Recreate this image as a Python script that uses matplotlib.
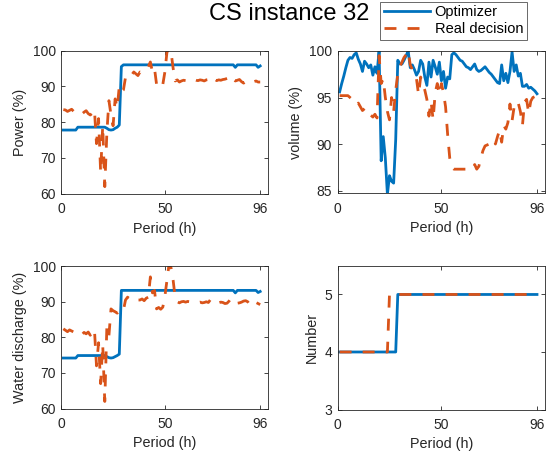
import matplotlib
matplotlib.use('Agg')
import matplotlib.pyplot as plt

plt.rcParams['font.family'] = ['Liberation Sans', 'DejaVu Sans']

tick_font = 10
label_font = 10.4

# ---- data (period 1..96) ----
period = list(range(1, 97))

# power: optimizer (breakpoints) and real decision
power_opt_x = [1, 7, 8, 21, 22, 23, 24, 25, 26, 27, 28, 29, 30, 83, 84, 85, 94, 95, 96]
power_opt_y = [77.8, 77.8, 78.6, 78.6, 78.3, 77.9, 77.8, 77.9, 78.3, 78.6, 79.2, 95.5, 96.0,
               96.0, 95.3, 96.0, 96.0, 95.3, 95.7]
power_real = [83.5, 83.4, 83.0, 83.3, 83.6, 83.0, 82.6, 82.2, 82.5, 82.3,
              82.8, 83.2, 82.4, 82.0, 82.5, 83.5, 74.0, 81.0, 66.0, 79.0,
              62.0, 77.0, 86.0, 82.0, 79.0, 86.5, 84.0, 90.0, 88.5, 89.0,
              92.5, 93.0, 92.5, 93.2, 94.0, 93.5, 93.0, 94.0, 93.8, 94.2,
              94.5, 95.5, 96.8, 94.0, 95.0, 90.5, 89.5, 89.8, 90.5, 94.0,
              99.5, 100.5, 99.5, 95.0, 91.5, 91.8, 91.2, 91.5, 91.7, 91.6,
              91.8, 92.0, 92.2, 91.9, 91.7, 91.6, 91.8, 91.7, 91.5, 91.8,
              91.9, 92.0, 92.7, 92.0, 91.6, 91.8, 91.7, 91.9, 92.0, 92.2,
              92.4, 93.0, 92.0, 91.5, 91.7, 91.9, 91.3, 90.9, 91.3, 91.8,
              91.6, 91.4, 91.3, 91.5, 91.2, 91.2]

# volume
volume_opt = [95.6, 96.5, 97.3, 98.2, 99.0, 99.3, 99.2, 99.6, 99.8, 99.1,
              98.6, 97.8, 98.9, 98.6, 98.2, 98.5, 97.4, 98.3, 97.6, 100.0,
              88.2, 90.8, 88.5, 84.6, 86.6, 86.0, 85.8, 90.5, 99.0, 98.6,
              98.6, 99.0, 99.5, 100.0, 98.2, 98.5, 98.0, 97.4, 97.8, 99.0,
              98.6, 97.2, 96.3, 98.8, 97.2, 99.0, 98.3, 97.5, 98.8, 96.8,
              97.8, 96.0, 97.2, 97.0, 99.6, 99.8, 99.6, 99.3, 99.0, 98.9,
              98.6, 98.3, 98.2, 98.0, 98.3, 98.6, 98.0, 97.8, 97.9, 98.1,
              98.3, 98.0, 97.7, 97.5, 97.2, 96.9, 96.6, 96.5, 98.5, 96.8,
              97.6, 96.6, 97.8, 99.9, 97.8, 98.5, 97.3, 97.6, 96.2, 96.2,
              96.4, 96.0, 96.1, 95.9, 95.7, 95.4]
volume_real = [95.2, 95.2, 95.2, 95.2, 95.2, 95.0, 94.8, 94.6, 94.2, 94.4,
               94.0, 93.6, 93.8, 93.4, 93.5, 93.1, 92.9, 93.2, 92.8, 99.5,
               96.5, 97.0, 95.0, 93.5, 92.6, 95.0, 93.5, 95.8, 97.5, 98.3,
               98.8, 99.3, 99.6, 100.0, 98.5, 98.0, 97.6, 97.0, 95.3, 97.2,
               96.3, 95.8, 94.8, 93.0, 94.6, 92.6, 95.5, 96.5, 95.3, 96.5,
               95.5, 94.0, 91.0, 88.5, 87.5, 87.3, 87.3, 87.3, 87.3, 87.3,
               87.3, 87.3, 87.3, 87.3, 87.3, 87.8, 87.3, 87.6, 88.5, 89.3,
               89.8, 89.9, 90.0, 90.3, 90.5, 90.0, 90.8, 91.5, 90.2, 92.0,
               91.6, 92.3, 94.3, 92.5, 94.0, 93.8, 94.4, 93.5, 92.0, 94.5,
               94.8, 93.3, 94.6, 95.0, 95.1, 95.2]

# water discharge
discharge_opt_x = [1, 7, 8, 21, 22, 23, 24, 25, 26, 27, 28, 29, 83, 84, 85, 94, 95, 96]
discharge_opt_y = [74.2, 74.2, 74.9, 74.9, 74.6, 74.3, 74.2, 74.3, 74.6, 74.9, 75.3, 93.2,
                   93.2, 92.5, 93.2, 93.2, 92.6, 92.9]
discharge_real = [82.4, 82.0, 81.6, 82.1, 81.8, 81.5, 81.2, 81.0, 80.5, 80.8,
                  81.4, 81.0, 81.5, 80.6, 81.5, 82.3, 72.0, 78.5, 67.0, 78.0,
                  62.0, 83.0, 80.5, 88.0, 87.5, 87.2, 86.8, 87.5, 88.0, 87.6,
                  90.5, 91.3, 90.8, 91.0, 90.6, 90.8, 90.5, 90.5, 90.8, 90.3,
                  91.0, 91.3, 97.0, 92.5, 93.2, 88.0, 88.4, 87.9, 88.5, 91.5,
                  96.0, 100.5, 99.5, 96.0, 91.0, 90.0, 89.7, 90.0, 90.1, 89.9,
                  90.1, 90.0, 90.2, 90.1, 90.0, 89.8, 89.9, 89.7, 89.8, 90.0,
                  89.8, 90.6, 89.9, 89.6, 89.8, 89.7, 89.9, 89.8, 89.5, 89.6,
                  90.2, 91.0, 90.2, 89.8, 89.6, 89.7, 89.9, 90.2, 90.3, 90.0,
                  89.2, 88.8, 89.6, 89.8, 89.5, 89.2]

# number of units
number_opt_x = [1, 28, 29, 96]
number_opt_y = [4, 4, 5, 5]
number_real_x = [1, 24, 25, 96]
number_real_y = [4, 4, 5, 5]

blue = '#0072BD'
orange = '#D95319'
axis_color = '#262626'

fig = plt.figure(figsize=(5.57, 4.55), dpi=100)

positions = [[0.110, 0.574, 0.372, 0.315],
             [0.606, 0.575, 0.373, 0.313],
             [0.110, 0.102, 0.372, 0.313],
             [0.606, 0.100, 0.373, 0.316]]
axes = [fig.add_axes(p) for p in positions]


def style(ax, ylabel, ylim, yticks):
    ax.set_xlim(0, 100)
    ax.set_xticks([0, 50, 96])
    ax.set_ylim(*ylim)
    ax.set_yticks(yticks)
    ax.set_xlabel('Period (h)', fontsize=label_font, color=axis_color, labelpad=4)
    ax.set_ylabel(ylabel, fontsize=label_font, color=axis_color, labelpad=4)
    ax.tick_params(direction='in', top=True, right=True, length=3, width=0.6,
                   labelsize=tick_font, colors=axis_color, pad=4)
    ax.tick_params(axis='x', pad=6)
    for s in ax.spines.values():
        s.set_color(axis_color)
        s.set_linewidth(0.6)


lw = 2.0
dash = (4.3, 4.0)

ax = axes[0]
l1, = ax.plot(power_opt_x, power_opt_y, color=blue, lw=lw, label='Optimizer')
l2, = ax.plot(period, power_real, color=orange, lw=lw, ls='--', dashes=dash, label='Real decision')
style(ax, 'Power (%)', (60, 100), [60, 70, 80, 90, 100])

ax = axes[1]
ax.plot(period, volume_opt, color=blue, lw=lw)
ax.plot(period, volume_real, color=orange, lw=lw, ls='--', dashes=dash)
style(ax, 'volume (%)', (84.7, 100), [85, 90, 95, 100])

ax = axes[2]
ax.plot(discharge_opt_x, discharge_opt_y, color=blue, lw=lw)
ax.plot(period, discharge_real, color=orange, lw=lw, ls='--', dashes=dash)
style(ax, 'Water discharge (%)', (60, 100), [60, 70, 80, 90, 100])

ax = axes[3]
ax.plot(number_opt_x, number_opt_y, color=blue, lw=lw)
ax.plot(number_real_x, number_real_y, color=orange, lw=lw, ls='--', dashes=dash)
style(ax, 'Number', (3, 5.5), [3, 4, 5])

fig.text(0.52, 0.969, 'CS instance 32', fontsize=17, ha='center', va='center', color='black')

leg = fig.legend(handles=[l1, l2], loc='upper left', bbox_to_anchor=(0.682, 0.996),
                 fontsize=10.5, frameon=True, fancybox=False, handlelength=3.2,
                 handletextpad=0.3, borderpad=0.25, labelspacing=0.2, borderaxespad=0)
leg.get_frame().set_edgecolor(axis_color)
leg.get_frame().set_linewidth(0.6)

fig.savefig('out.png', dpi=100)
